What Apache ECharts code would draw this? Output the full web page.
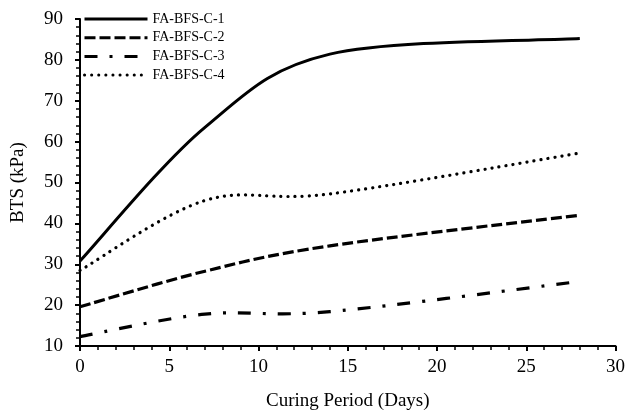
<!DOCTYPE html>
<html>
<head>
<meta charset="utf-8">
<script src="https://cdn.jsdelivr.net/npm/echarts@6/dist/echarts.min.js"></script>
<style>html,body{margin:0;padding:0;background:#fff}#c{width:628px;height:416px}</style>
</head>
<body>
<div id="c"></div>
<script>
const days = [0, 7, 14, 28];
const seriesNames = ['FA-BFS-C-1', 'FA-BFS-C-2', 'FA-BFS-C-3', 'FA-BFS-C-4'];
const c1 = [30.8, 63.5, 81.4, 85.2];
const c2 = [19.6, 28.3, 34.5, 42.0];
const c3 = [12.3, 17.8, 18.4, 25.8];
const c4 = [28.5, 45.6, 47.2, 57.2];
const xTicks = [0, 5, 10, 15, 20, 25, 30];
const yTicks = [10, 20, 30, 40, 50, 60, 70, 80, 90];

const font = 'Liberation Serif';
const styles = [
  {dash: null, width: 3, cap: 'butt'},
  {dash: [11, 4], width: 3.2, cap: 'butt'},
  {dash: [13, 12, 3, 12], width: 3.2, cap: 'butt'},
  {dash: [0.1, 7], width: 3.2, cap: 'round'}
];
const values = [c1, c2, c3, c4];

// Smoothed (spreadsheet-style) curve through the data points, in pixel space
function smoothRender(si) {
  return function (params, api) {
    if (params.dataIndexInside !== 0) return null;
    const n = params.dataInsideLength;
    const p = [];
    for (let j = 0; j < n; j++) p.push(api.coord([api.value(0, j), api.value(1, j)]));
    let d = 'M' + p[0][0] + ' ' + p[0][1];
    for (let j = 0; j < n - 1; j++) {
      const a = p[Math.max(j - 1, 0)], b = p[j], c = p[j + 1], e = p[Math.min(j + 2, n - 1)];
      const c1x = b[0] + (c[0] - a[0]) / 6, c1y = b[1] + (c[1] - a[1]) / 6;
      const c2x = c[0] - (e[0] - b[0]) / 6, c2y = c[1] - (e[1] - b[1]) / 6;
      d += ' C' + c1x + ' ' + c1y + ' ' + c2x + ' ' + c2y + ' ' + c[0] + ' ' + c[1];
    }
    const st = styles[si];
    return {
      type: 'path',
      shape: {pathData: d},
      style: {fill: null, stroke: '#000', lineWidth: st.width, lineDash: st.dash, lineCap: st.cap}
    };
  };
}

const legendSeries = seriesNames.map((n, i) => ({
  name: n, type: 'line', symbol: 'none', data: [],
  lineStyle: {color: '#000', width: styles[i].width, type: styles[i].dash || 'solid', cap: styles[i].cap},
  itemStyle: {color: '#000'}
}));
const curveSeries = seriesNames.map((n, i) => ({
  name: n, type: 'custom', clip: false,
  data: days.map((d, j) => [d, values[i][j]]),
  encode: {x: 0, y: 1},
  renderItem: smoothRender(i),
  itemStyle: {color: '#000'}
}));

const chart = echarts.init(document.getElementById('c'), null, {renderer: 'canvas'});
chart.setOption({
  animation: false,
  backgroundColor: '#fff',
  grid: {left: 80, right: 10, top: 19, bottom: 67, containLabel: false},
  legend: {
    left: 83, top: 12, orient: 'vertical', padding: 0,
    itemWidth: 63, itemHeight: 14, itemGap: 4.7,
    itemStyle: {opacity: 0},
    lineStyle: {width: 3},
    textStyle: {fontFamily: font, fontSize: 14, color: '#000'},
    data: seriesNames
  },
  xAxis: {
    type: 'value', min: xTicks[0], max: xTicks[xTicks.length - 1], interval: 5,
    name: 'Curing Period (Days)', nameLocation: 'middle', nameGap: 46,
    nameTextStyle: {fontFamily: font, fontSize: 19, color: '#000'},
    axisLine: {lineStyle: {color: '#000', width: 2}},
    axisTick: {show: true, length: 5, lineStyle: {color: '#000', width: 2}},
    minorTick: {show: true, splitNumber: 5, length: 4, lineStyle: {color: '#000', width: 1.5}},
    splitLine: {show: false},
    axisLabel: {fontFamily: font, fontSize: 19, color: '#000', margin: 12}
  },
  yAxis: {
    type: 'value', min: yTicks[0], max: yTicks[yTicks.length - 1], interval: 10,
    name: 'BTS (kPa)', nameLocation: 'middle', nameGap: 52, nameRotate: 90,
    nameTextStyle: {fontFamily: font, fontSize: 19, color: '#000'},
    axisLine: {show: true, lineStyle: {color: '#000', width: 2}},
    axisTick: {show: true, length: 5, lineStyle: {color: '#000', width: 2}},
    minorTick: {show: true, splitNumber: 5, length: 4, lineStyle: {color: '#000', width: 1.5}},
    splitLine: {show: false},
    axisLabel: {fontFamily: font, fontSize: 19, color: '#000', margin: 17}
  },
  series: legendSeries.concat(curveSeries)
});
</script>
</body>
</html>
